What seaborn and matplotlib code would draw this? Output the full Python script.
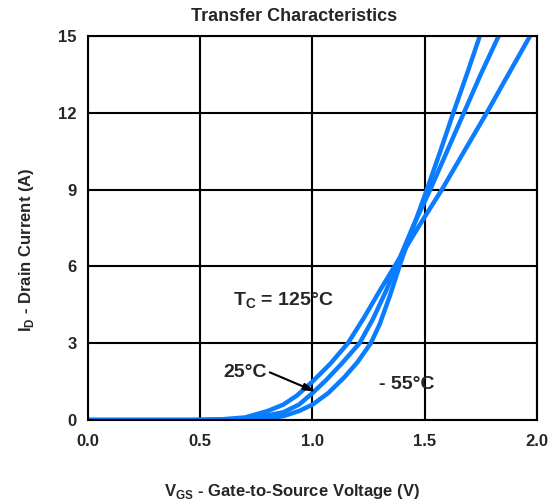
import pandas as pd
import matplotlib
matplotlib.use("Agg")
import matplotlib.pyplot as plt
import seaborn as sns

# Drain current (A) vs gate-to-source voltage (V)
vgs_125 = [0.0, 0.45, 0.6, 0.7, 0.8, 0.87, 0.93, 1.0, 1.08, 1.158, 1.23, 1.3, 1.39,
           1.48, 1.577, 1.68, 1.777, 1.87, 1.97]
id_125 = [0.0, 0.0, 0.03, 0.1, 0.35, 0.6, 0.95, 1.5, 2.2, 3.0, 4.0, 5.05, 6.35,
          7.65, 9.0, 10.55, 12.0, 13.45, 15.0]

vgs_25 = [0.0, 0.5, 0.65, 0.75, 0.87, 0.94, 1.0, 1.06, 1.13, 1.21, 1.27, 1.33, 1.39,
          1.45, 1.525, 1.6, 1.675, 1.75, 1.83]
id_25 = [0.0, 0.0, 0.03, 0.1, 0.3, 0.6, 1.05, 1.55, 2.2, 3.0, 3.95, 5.08, 6.35,
         7.6, 9.0, 10.5, 12.0, 13.5, 15.0]

vgs_m55 = [0.0, 0.6, 0.72, 0.8, 0.87, 0.94, 1.0, 1.07, 1.14, 1.2, 1.26, 1.3, 1.345,
           1.395, 1.45, 1.51, 1.57, 1.626, 1.69, 1.746]
id_m55 = [0.0, 0.0, 0.02, 0.05, 0.15, 0.35, 0.6, 1.05, 1.65, 2.25, 3.0, 3.75, 4.85,
          6.2, 7.55, 9.0, 10.5, 11.95, 13.55, 15.0]

x_ticks = [0.0, 0.5, 1.0, 1.5, 2.0]
y_ticks = [0, 3, 6, 9, 12, 15]

sns.set_style("white")
plt.rcParams['font.family'] = ['Liberation Sans', 'DejaVu Sans']

frames = []
for name, xs, ys in [("125", vgs_125, id_125), ("25", vgs_25, id_25), ("-55", vgs_m55, id_m55)]:
    frames.append(pd.DataFrame({"vgs": xs, "id": ys, "temp": name}))
df = pd.concat(frames)

fig = plt.figure(figsize=(5.54, 5.04), dpi=100)
ax = fig.add_axes([0.159, 0.1667, 0.81, 0.762])

blue = "#0a7cff"
sns.lineplot(data=df, x="vgs", y="id", hue="temp", palette=[blue] * 3,
             linewidth=3.2, legend=False, ax=ax, sort=False, estimator=None)
for ln in ax.lines:
    ln.set_solid_capstyle("round")
    ln.set_solid_joinstyle("round")

ax.set_xlim(0, 2.0)
ax.set_ylim(0, 15)
ax.set_xticks(x_ticks)
ax.set_xticklabels([f"{v:.1f}" for v in x_ticks], fontweight="bold", fontsize=12)
ax.set_yticks(y_ticks)
ax.set_yticklabels([str(v) for v in y_ticks], fontweight="bold", fontsize=12)
ax.tick_params(axis="x", length=0, pad=10)
ax.tick_params(axis="y", length=0, pad=8)
ax.grid(True, color="black", linewidth=1.5)
ax.set_axisbelow(True)
for s in ax.spines.values():
    s.set_color("black")
    s.set_linewidth(1.5)

ax.set_title("Transfer Characteristics", fontweight="bold", fontsize=13, pad=11, x=0.459)
ax.set_xlabel("V$_{\\mathregular{GS}}$ - Gate-to-Source Voltage (V)", fontweight="bold",
              fontsize=12, labelpad=24, x=0.455)
ax.set_ylabel("I$_{\\mathregular{D}}$ - Drain Current (A)", fontweight="bold",
              fontsize=12, labelpad=16, y=0.443)

ax.text(0.87, 4.65, "T$_{\\mathregular{C}}$ = 125\u00b0C", fontweight="bold", fontsize=14,
        ha="center", va="center")
ax.text(0.70, 1.87, "25\u00b0C", fontweight="bold", fontsize=14, ha="center", va="center")
ax.annotate("", xy=(1.015, 1.1), xytext=(0.81, 1.86),
            arrowprops=dict(arrowstyle="-|>,head_length=0.7,head_width=0.2", color="black",
                            lw=1.5, shrinkA=0, shrinkB=0))
ax.text(1.42, 1.37, "- 55\u00b0C", fontweight="bold", fontsize=14, ha="center", va="center")

fig.savefig("out.png", dpi=100)
